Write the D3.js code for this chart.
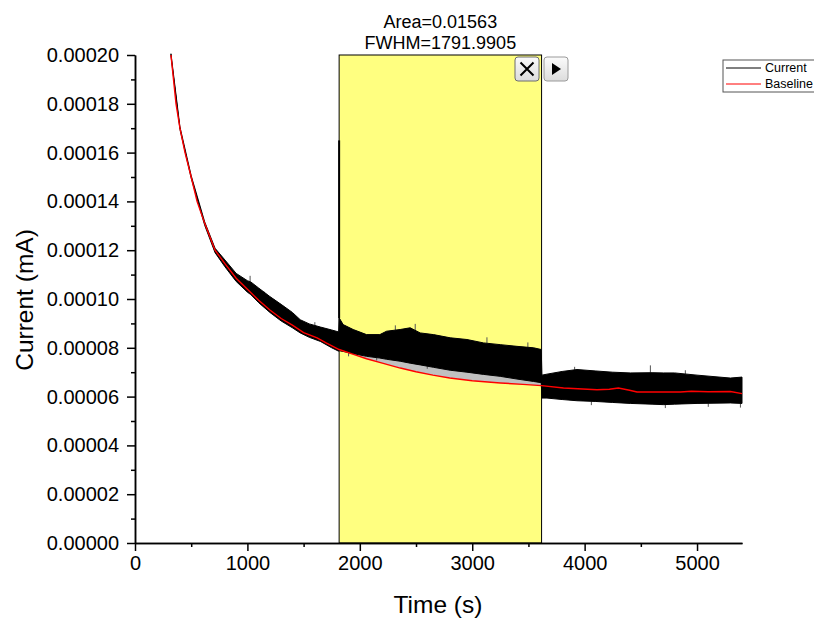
<!DOCTYPE html>
<html>
<head>
<meta charset="utf-8">
<script src="https://cdn.jsdelivr.net/npm/d3@7"></script>
<style>
    body { margin: 0; background: #fff; }
    svg { display: block; font-family: "Liberation Sans", Arial, sans-serif; }
</style>
</head>
<body>
<svg id="chart" width="814" height="619"></svg>
<script>
// x ticks (s) and y ticks (mA)
var xTicks = [0, 1000, 2000, 3000, 4000, 5000];
var xMinor = [500, 1500, 2500, 3500, 4500];
var yTicks = [0, 0.00002, 0.00004, 0.00006, 0.00008, 0.0001, 0.00012, 0.00014, 0.00016, 0.00018, 0.0002];
var yMinor = [0.00001, 0.00003, 0.00005, 0.00007, 0.00009, 0.00011, 0.00013, 0.00015, 0.00017, 0.00019];

// integration window
var peakRange = [1816, 3617];
var peakLabels = ['Area=0.01563', 'FWHM=1791.9905'];

// baseline (red)
var baseT = [320, 365, 400, 445, 500, 552, 620, 712, 800, 900, 1000, 1100, 1200, 1300, 1400, 1500, 1620, 1700, 1816,
    1950, 2060, 2200, 2360, 2500, 2650, 2800, 3000, 3250, 3450, 3617, 3812, 4110, 4220, 4300, 4400, 4466, 4852, 4950,
    5100, 5297, 5400];
var baseV = [0.000200, 0.000180, 0.000170, 0.000160, 0.000150, 0.000140, 0.000131, 0.000120, 0.0001145, 0.0001085,
    0.000104, 0.0000995, 0.0000955, 0.0000920, 0.0000893, 0.0000862, 0.0000841, 0.0000820, 0.0000793,
    0.0000772, 0.0000755, 0.0000737, 0.0000717, 0.0000702, 0.0000688, 0.0000676, 0.0000665, 0.0000656, 0.0000650,
    0.0000645, 0.0000635, 0.0000628, 0.0000630, 0.0000635, 0.0000626, 0.0000619, 0.0000619, 0.0000622,
    0.0000620, 0.0000621, 0.0000612];

// current (black, noisy) as upper / lower envelope
var curT = [320, 400, 500, 620, 712, 800, 900, 1000, 1030, 1100, 1200, 1300, 1400, 1470, 1550, 1650, 1750, 1812,
    1816, 1852, 1941, 2060, 2178, 2238, 2359, 2448, 2537, 2656, 2804, 2953, 3101, 3249, 3398, 3546, 3614,
    3620, 3665, 3800, 3932, 4100, 4250, 4407, 4600, 4703, 4800, 5000, 5297, 5400];
var curHi = [0.0002005, 0.0001705, 0.0001505, 0.0001316, 0.0001208, 0.000116, 0.0001105, 0.0001075, 0.000107,
    0.0001045, 0.000101, 0.0000978, 0.0000945, 0.0000915, 0.0000898, 0.0000885, 0.0000873, 0.0000865,
    0.0000923, 0.0000895, 0.0000875, 0.0000854, 0.0000854, 0.0000868, 0.0000875, 0.0000882, 0.0000861, 0.0000854,
    0.0000841, 0.0000834, 0.000082, 0.0000813, 0.0000806, 0.00008, 0.0000793,
    0.0000688, 0.0000692, 0.0000703, 0.0000711, 0.0000705, 0.00007, 0.0000697, 0.0000698, 0.0000697, 0.0000697,
    0.0000688, 0.0000676, 0.000068];
var curLo = [0.0001995, 0.0001695, 0.0001495, 0.0001302, 0.000119, 0.0001132, 0.0001072, 0.0001028, 0.0001018,
    0.0000985, 0.0000945, 0.000091, 0.0000882, 0.0000861, 0.0000843, 0.0000826, 0.00008, 0.0000786,
    0.0000788, 0.0000785, 0.0000776, 0.0000765, 0.0000758, 0.0000753, 0.0000745, 0.0000737, 0.000073, 0.000072,
    0.0000708, 0.00007, 0.0000691, 0.0000683, 0.0000672, 0.0000662, 0.0000657,
    0.0000594, 0.0000594, 0.0000588, 0.0000583, 0.000058, 0.0000576, 0.0000572, 0.0000569, 0.0000567, 0.0000569,
    0.0000572, 0.0000574, 0.0000572];

// single spikes above / below the band
var spikeUpT = [1024, 1077, 1150, 1240, 1600, 2316, 2493, 3131, 3495, 3911, 4585, 4896];
var spikeUpV = [0.0001095, 0.0001053, 0.000103, 0.0000995, 0.0000905, 0.0000892, 0.0000898, 0.0000843, 0.0000822,
    0.0000722, 0.0000728, 0.0000708];
var spikeDnT = [1900, 2150, 2600, 4060, 4718, 5100, 5386];
var spikeDnV = [0.0000765, 0.0000748, 0.0000714, 0.0000565, 0.0000553, 0.0000558, 0.0000555];
// jump at the start of the window
var jumpT = 1816;
var jumpV = 0.000165;

var seriesNames = ['Current', 'Baseline'];
var seriesColors = ['#000000', '#ff0000'];

var svg = d3.select('#chart');

var x = d3.scaleLinear().domain([0, 5400]).range([135, 742]);
var y = d3.scaleLinear().domain([0, 0.0002]).range([543, 55]);

var base = baseT.map(function (t, i) {
    return {t: t, v: baseV[i]};
});
var cur = curT.map(function (t, i) {
    return {t: t, hi: curHi[i], lo: curLo[i]};
});

// value of a series at time t
var valueAt = function (ts, vs, t) {
    var i = d3.bisectLeft(ts, t);
    if (i <= 0) return vs[0];
    if (i >= ts.length) return vs[vs.length - 1];
    return vs[i - 1] + (vs[i] - vs[i - 1]) * (t - ts[i - 1]) / (ts[i] - ts[i - 1]);
};

// yellow window
svg.append('rect')
    .attr('x', x(peakRange[0]))
    .attr('y', y(0.0002))
    .attr('width', x(peakRange[1]) - x(peakRange[0]))
    .attr('height', y(0) - y(0.0002))
    .style('fill', '#ffff80')
    .style('stroke', '#000')
    .style('stroke-width', 1);

// gray area between baseline and current inside the window
var inWin = cur.filter(function (d) {
    return d.t >= peakRange[0] && d.t <= peakRange[1];
});
svg.append('path')
    .datum(inWin)
    .attr('d', d3.area()
        .x(function (d) {
            return x(d.t);
        })
        .y0(function (d) {
            return y(valueAt(baseT, baseV, d.t));
        })
        .y1(function (d) {
            return y(d.hi);
        }))
    .style('fill', '#c0c0c0');

var drawSpikes = function (ts, vs, edge, cls) {
    svg.selectAll('line.' + cls)
        .data(ts)
        .enter()
        .append('line')
        .attr('class', cls)
        .attr('x1', function (d) {
            return x(d);
        })
        .attr('x2', function (d) {
            return x(d);
        })
        .attr('y1', function (d, i) {
            return y(vs[i]);
        })
        .attr('y2', function (d) {
            return y(valueAt(curT, edge, d + 1));
        })
        .style('stroke', '#555')
        .style('stroke-width', 1);
};
drawSpikes(spikeUpT, spikeUpV, curHi, 'up');
drawSpikes(spikeDnT, spikeDnV, curLo, 'dn');

// current band
svg.append('path')
    .datum(cur)
    .attr('d', d3.area()
        .x(function (d) {
            return x(d.t);
        })
        .y0(function (d) {
            return y(d.lo);
        })
        .y1(function (d) {
            return y(d.hi);
        }))
    .style('fill', '#000')
    .style('stroke', '#000')
    .style('stroke-width', 1);

svg.append('line')
    .attr('x1', x(jumpT)).attr('x2', x(jumpT))
    .attr('y1', y(jumpV)).attr('y2', y(valueAt(curT, curHi, jumpT + 1)))
    .style('stroke', '#000')
    .style('stroke-width', 2);

// baseline
svg.append('path')
    .datum(base)
    .attr('d', d3.line()
        .x(function (d) {
            return x(d.t);
        })
        .y(function (d) {
            return y(d.v);
        }))
    .style('fill', 'none')
    .style('stroke', seriesColors[1])
    .style('stroke-width', 1.4);

// axes
var styleAxis = function (g) {
    g.select('.domain').style('stroke-width', 1.5);
    g.selectAll('.tick line').style('stroke-width', 1.5);
    g.selectAll('.tick text').style('font-size', '20px').style('fill', '#000')
        .style('font-family', '"Liberation Sans", Arial, sans-serif');
};

svg.append('g')
    .attr('transform', 'translate(0,543)')
    .call(d3.axisBottom(x).tickValues(xMinor).tickSize(4).tickFormat('').tickSizeOuter(0))
    .call(styleAxis);
svg.append('g')
    .attr('transform', 'translate(0,543)')
    .call(d3.axisBottom(x).tickValues(xTicks).tickSize(8).tickPadding(5).tickFormat(d3.format('d')).tickSizeOuter(0))
    .call(styleAxis);
svg.append('g')
    .attr('transform', 'translate(135,0)')
    .call(d3.axisLeft(y).tickValues(yMinor).tickSize(4).tickFormat('').tickSizeOuter(0))
    .call(styleAxis);
svg.append('g')
    .attr('transform', 'translate(135,0)')
    .call(d3.axisLeft(y).tickValues(yTicks).tickSize(8).tickPadding(8).tickFormat(function (d) {
        return d.toFixed(5);
    }).tickSizeOuter(0))
    .call(styleAxis);

// axis titles
svg.append('text')
    .attr('x', 438)
    .attr('y', 613)
    .attr('text-anchor', 'middle')
    .style('font-size', '24.5px')
    .text('Time (s)');
svg.append('text')
    .attr('transform', 'translate(33,300) rotate(-90)')
    .attr('text-anchor', 'middle')
    .style('font-size', '24.5px')
    .text('Current (mA)');

// area / fwhm labels
svg.selectAll('text.peak')
    .data(peakLabels)
    .enter()
    .append('text')
    .attr('class', 'peak')
    .attr('x', (x(peakRange[0]) + x(peakRange[1])) / 2)
    .attr('y', function (d, i) {
        return 28 + i * 21;
    })
    .attr('text-anchor', 'middle')
    .style('font-size', '18px')
    .text(function (d) {
        return d;
    });

// the two little buttons
var grad = svg.append('defs').append('linearGradient')
    .attr('id', 'btn')
    .attr('x1', 0).attr('y1', 0).attr('x2', 0).attr('y2', 1);
grad.append('stop').attr('offset', '0%').style('stop-color', '#fbfbfb');
grad.append('stop').attr('offset', '100%').style('stop-color', '#dcdcdc');

svg.append('rect')
    .attr('x', 515).attr('y', 57).attr('width', 24).attr('height', 24).attr('rx', 3)
    .style('fill', 'url(#btn)').style('stroke', '#6d6d6d');
svg.append('path')
    .attr('d', 'M520.5,62.5L533.5,75.5M533.5,62.5L520.5,75.5')
    .style('stroke', '#000').style('stroke-width', 2);
svg.append('rect')
    .attr('x', 544).attr('y', 57).attr('width', 24).attr('height', 24).attr('rx', 3)
    .style('fill', 'url(#btn)').style('stroke', '#9a9a9a');
svg.append('path')
    .attr('d', 'M552,63L561,69L552,75Z')
    .style('fill', '#000');

// legend
var legend = svg.append('g');
legend.append('rect')
    .attr('x', 723).attr('y', 60).attr('width', 100).attr('height', 32)
    .style('fill', '#fff').style('stroke', '#555').style('stroke-width', 1);
legend.selectAll('line')
    .data(seriesNames)
    .enter()
    .append('line')
    .attr('x1', 726).attr('x2', 761)
    .attr('y1', function (d, i) {
        return 68 + i * 16;
    })
    .attr('y2', function (d, i) {
        return 68 + i * 16;
    })
    .style('stroke', function (d, i) {
        return seriesColors[i];
    })
    .style('stroke-width', 1);
legend.selectAll('text')
    .data(seriesNames)
    .enter()
    .append('text')
    .attr('x', 765)
    .attr('y', function (d, i) {
        return 72 + i * 16;
    })
    .style('font-size', '12.5px')
    .text(function (d) {
        return d;
    });
</script>
</body>
</html>
